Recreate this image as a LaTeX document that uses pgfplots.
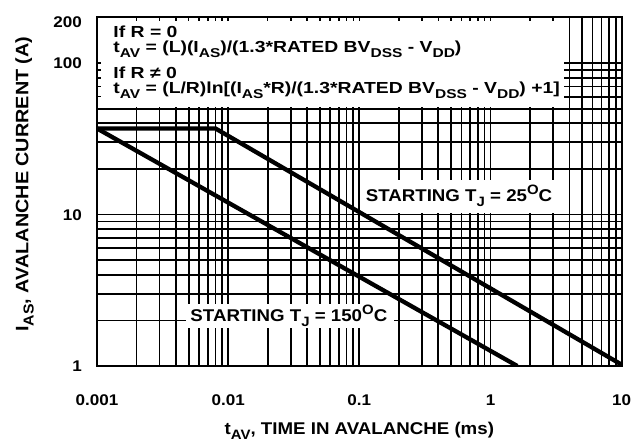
\documentclass[border=0pt]{standalone}
\usepackage{fontspec}
\setmainfont{Liberation Sans}[FakeStretch=1.1]
\usepackage{graphicx}
\usepackage{pgfplots}
\pgfplotsset{compat=1.18}

% subscripts and superscripts as in the datasheet
\newcommand\sub[1]{\raisebox{-0.3em}{\scalebox{0.8}{#1}}}
\newcommand\sups[1]{\raisebox{0.42em}{\scalebox{0.8}{#1}}}

\pgfplotsset{
  base/.style={
    at={(97pt,75pt)}, anchor=south west,
    scale only axis,
    width=524.7pt, height=348.5pt,
    xmin=0.001, xmax=10,
    ymin=1, ymax=200,
    xtick={0.001,0.01,0.1,1,10},
    minor xtick={0.002,0.003,0.004,0.005,0.006,0.007,0.008,0.009,
                 0.02,0.03,0.04,0.05,0.06,0.07,0.08,0.09,
                 0.2,0.3,0.4,0.5,0.6,0.7,0.8,0.9,
                 2,3,4,5,6,7,8,9},
    ytick={1,10,100},
    minor ytick={2,3,4,5,6,7,8,9,20,30,40,50,60,70,80,90},
  },
}

\begin{document}
\begin{tikzpicture}[font=\bfseries]
% grid underneath, with the white boxes for the notes
\begin{loglogaxis}[
    base,
    grid=both,
    major grid style={line width=1.7pt, black},
    minor grid style={line width=1.7pt, black},
    axis line style={draw=none},
    major tick length=0pt, minor tick length=0pt,
    tick style={draw=none},
    xticklabels={}, yticklabels={},
]
\fill[white] (rel axis cs:0,0.7425) rectangle (rel axis cs:0.89,1);
\fill[white] (rel axis cs:0.501,0.438) rectangle (rel axis cs:0.871,0.534);
\fill[white] (rel axis cs:0.170,0.109) rectangle (rel axis cs:0.566,0.178);

\begin{scope}[font=\fontsize{16}{18}\selectfont\bfseries]
\node[anchor=base west, inner sep=0pt] at (rel axis cs:0.031,0.942) {\scalebox{1.1}[1]{If R = 0}};
\node[anchor=base west, inner sep=0pt] at (rel axis cs:0.031,0.899)
  {\scalebox{1.1}[1]{t\sub{AV} = (L)(I\sub{AS})/(1.3*RATED BV\sub{DSS} - V\sub{DD})}};
\node[anchor=base west, inner sep=0pt] at (rel axis cs:0.031,0.8235) {\scalebox{1.1}[1]{If R ≠ 0}};
\node[anchor=base west, inner sep=0pt] at (rel axis cs:0.031,0.7805)
  {\scalebox{1.1}[1]{t\sub{AV} = (L/R)ln[(I\sub{AS}*R)/(1.3*RATED BV\sub{DSS} - V\sub{DD}) +1]}};
\end{scope}

\begin{scope}[font=\fontsize{17}{20}\selectfont\bfseries]
\node[anchor=base, inner sep=0pt] at (rel axis cs:0.690,0.4714) {STARTING T\sub{J} = 25\sups{O}C};
\node[anchor=base, inner sep=0pt] at (rel axis cs:0.3657,0.1271) {STARTING T\sub{J} = 150\sups{O}C};
\end{scope}
\end{loglogaxis}

% frame, ticks, labels and the two curves
\begin{loglogaxis}[
    base,
    xticklabels={0.001,0.01,0.1,1,10},
    yticklabels={1,10,100},
    extra y ticks={200},
    extra y tick labels={200},
    extra y tick style={yticklabel style={yshift=-5pt}},
    axis line style={line width=2pt},
    tick align=inside,
    major tick length=4pt, minor tick length=4pt,
    tick style={line width=1.5pt, black},
    /pgf/number format/assume math mode=true,
    tick label style={font=\fontsize{15.5}{18}\selectfont\bfseries},
    xticklabel style={anchor=base, inner sep=0pt, yshift=-40pt},
    yticklabel style={anchor=base east, inner sep=0pt, xshift=-15pt, yshift=-5.5pt},
    xlabel={t\sub{AV}, TIME IN AVALANCHE (ms)},
    xlabel style={font=\fontsize{17}{20}\selectfont\bfseries,
                  at={(axis description cs:0.5,-0.196)}, anchor=base},
    ylabel={I\sub{AS}, AVALANCHE CURRENT (A)},
    ylabel style={font=\fontsize{18}{20}\selectfont\bfseries,
                  at={(axis description cs:-0.1309,0.522)}, anchor=base},
]
% starting Tj = 25 C
\addplot[line width=4.3pt, black] coordinates {(0.001,37) (0.008,37) (10,1.02)};
% starting Tj = 150 C
\addplot[line width=4.3pt, black] coordinates {(0.001,37) (1.6,1)};
\end{loglogaxis}
\pgfresetboundingbox
\path (0pt,0pt) rectangle (633pt,441pt);
\end{tikzpicture}
\end{document}
